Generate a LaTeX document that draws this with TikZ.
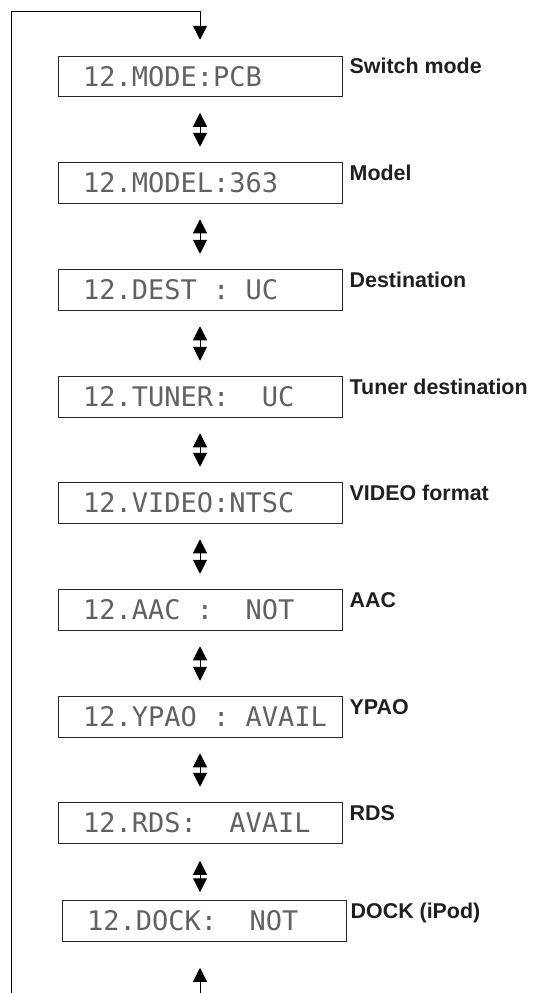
\documentclass[tikz,border=0pt]{standalone}
\usepackage{fontspec}
\usetikzlibrary{arrows.meta,positioning}
\newfontfamily\lcdfont{DejaVu Sans Mono}
\newfontfamily\notefont{Liberation Sans}
\newcommand{\lcdline}[1]{\makebox[234pt][l]{#1}}

\begin{document}
\begin{tikzpicture}[x=1pt,y=-1pt,
    lcd/.style={draw=black!85, line width=1pt, minimum height=40.5pt,
        inner xsep=25pt, inner ysep=0pt, text=black!62,
        font=\lcdfont\fontsize{27}{30}\selectfont},
    note/.style={anchor=base west, inner sep=0pt, text=black!88,
        font=\notefont\bfseries\fontsize{21.4}{24}\selectfont},
    tip/.style={line width=1pt, -{Triangle[width=14pt,length=14pt]}},
    updown/.style={line width=1pt,
        {Triangle[width=14pt,length=14pt]}-{Triangle[width=14pt,length=14pt]},
        shorten <=15.5pt, shorten >=15.5pt}]
    \useasboundingbox (0,0) rectangle (535,993);

    % Display boxes
    \node[lcd] (mode)  at (200,76.5) {\lcdline{12.MODE:PCB}};
    \node[lcd] (model) at (200,183)  {\lcdline{12.MODEL:363}};
    \node[lcd] (dest)  at (200,290)  {\lcdline{12.DEST~:~UC}};
    \node[lcd] (tuner) at (200,397)  {\lcdline{12.TUNER:~~UC}};
    \node[lcd] (video) at (200,503)  {\lcdline{12.VIDEO:NTSC}};
    \node[lcd] (aac)   at (200,610)  {\lcdline{12.AAC~:~~NOT}};
    \node[lcd] (ypao)  at (200,717)  {\lcdline{12.YPAO~:~AVAIL}};
    \node[lcd] (rds)   at (200,823)  {\lcdline{12.RDS:~~AVAIL}};
    \node[lcd] (dock)  at (204,921)  {\lcdline{12.DOCK:~~NOT}};

    % Names beside the boxes
    \node[note] (modeN)  at ([xshift=7pt,yshift=-18pt]mode.north east)  {Switch mode};
    \node[note] (modelN) at ([xshift=7pt,yshift=-18pt]model.north east) {Model};
    \node[note] (destN)  at ([xshift=7pt,yshift=-18pt]dest.north east)  {Destination};
    \node[note] (tunerN) at ([xshift=7pt,yshift=-18pt]tuner.north east) {Tuner destination};
    \node[note] (videoN) at ([xshift=7pt,yshift=-18pt]video.north east) {VIDEO format};
    \node[note] (aacN)   at ([xshift=7pt,yshift=-18pt]aac.north east)   {AAC};
    \node[note] (ypaoN)  at ([xshift=7pt,yshift=-18pt]ypao.north east)  {YPAO};
    \node[note] (rdsN)   at ([xshift=7pt,yshift=-18pt]rds.north east)   {RDS};
    \node[note] (dockN)  at ([xshift=4pt,yshift=-18pt]dock.north east)  {DOCK (iPod)};

    % Double arrows between the steps
    \draw[updown] (mode.south)  -- (model.north);
    \draw[updown] (model.south) -- (dest.north);
    \draw[updown] (dest.south)  -- (tuner.north);
    \draw[updown] (tuner.south) -- (video.north);
    \draw[updown] (video.south) -- (aac.north);
    \draw[updown] (aac.south)   -- (ypao.north);
    \draw[updown] (ypao.south)  -- (rds.north);
    \draw[updown, shorten <=17pt, shorten >=8pt] (rds.south) -- (rds.south |- dock.north);

    % Return loop
    \coordinate (loopTL) at (11.5,11.5);
    \coordinate (loopBL) at (11.5,993);
    \coordinate (loopBR) at (200,993);
    \draw[tip, shorten >=16pt] (loopBL) -- (loopTL) -| (mode.north);
    \draw[tip, shorten >=26pt] (loopBR) -- (loopBR |- dock.south);
\end{tikzpicture}
\end{document}
